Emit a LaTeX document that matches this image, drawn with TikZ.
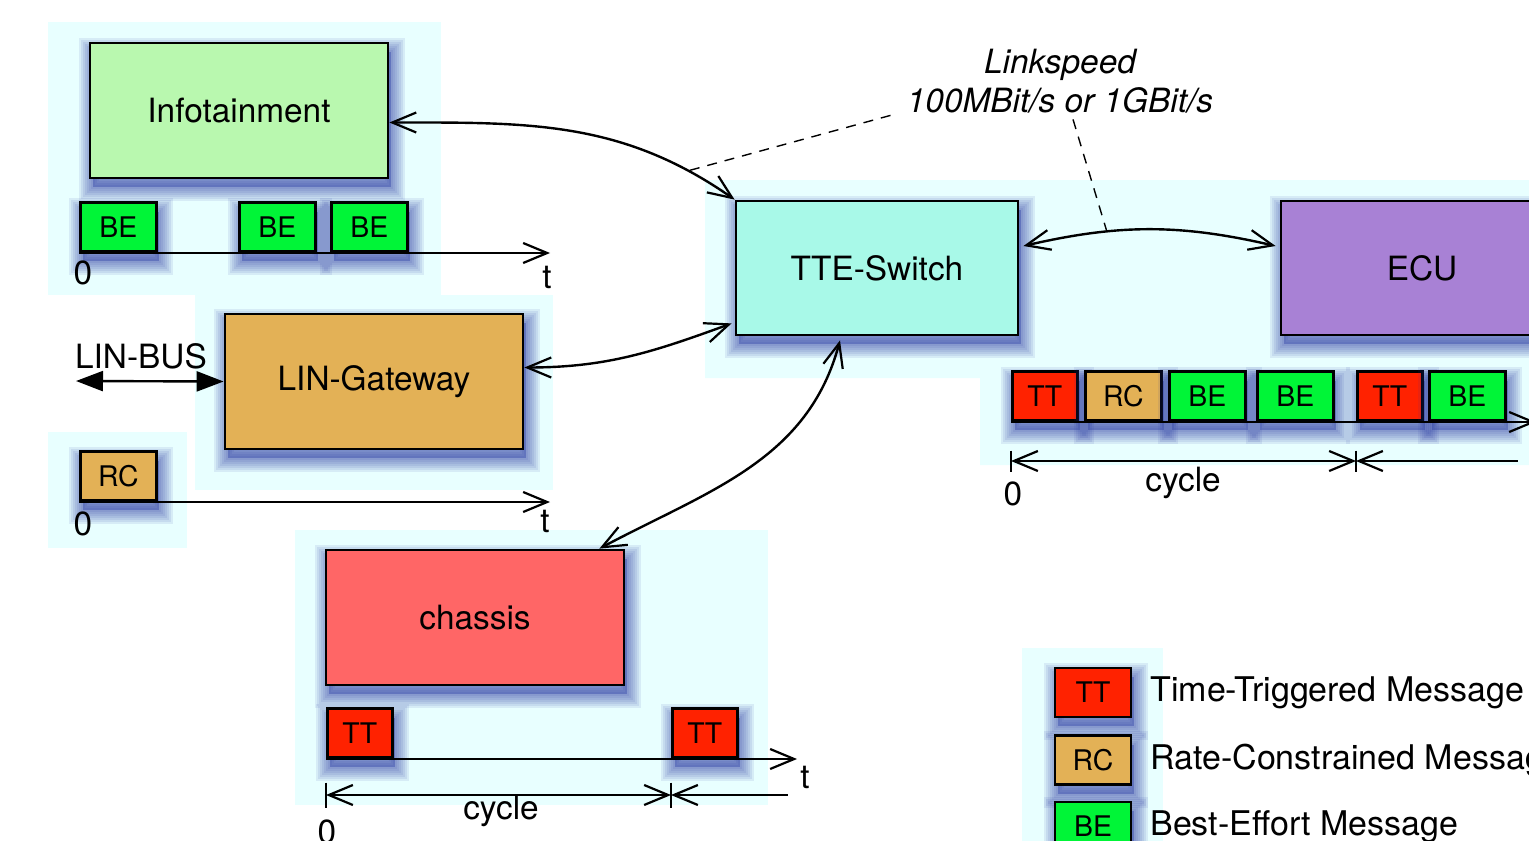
\documentclass[tikz,border=0pt]{standalone}
\usepackage{fontspec}
\setmainfont{TeX Gyre Heros}
\usetikzlibrary{arrows.meta,positioning,shadows}

\definecolor{panelcyan}{RGB}{232,255,255}
\definecolor{infogreen}{RGB}{185,248,175}
\definecolor{lingold}{RGB}{227,177,86}
\definecolor{chassisred}{RGB}{255,102,102}
\definecolor{switchcyan}{RGB}{168,249,232}
\definecolor{ecupurple}{RGB}{168,129,213}
\definecolor{ttred}{RGB}{255,34,0}
\definecolor{begreen}{RGB}{0,245,55}
\definecolor{shadowblue}{RGB}{35,50,160}

\tikzset{
  shadowring/.style={general shadow={shadow xshift=1.5pt, shadow yshift=-4.5pt,
      draw=shadowblue, draw opacity=0.09, line width=#1}},
  softshadow/.style={
      general shadow={shadow xshift=1.5pt, shadow yshift=-4.5pt, fill=shadowblue, fill opacity=0.35},
      shadowring=2pt, shadowring=4pt, shadowring=6pt, shadowring=8pt,
      shadowring=10pt, shadowring=12pt, shadowring=14pt},
  unitbox/.style={draw, line width=1.4pt, minimum width=149pt, minimum height=67.5pt,
      softshadow},
  msgbox/.style={draw, line width=1.3pt, minimum width=38pt, minimum height=24.5pt,
      inner sep=0pt, font=\fontsize{14.2}{16}\selectfont, softshadow},
  ttbox/.style={msgbox, fill=ttred, minimum width=32.5pt},
  rcbox/.style={msgbox, fill=lingold},
  bebox/.style={msgbox, fill=begreen},
  barb/.tip={Straight Barb[length=12pt, width=10pt, line width=1.1pt]},
  timeaxis/.style={line width=1.1pt, -barb},
  linkarrow/.style={line width=1.2pt, barb-barb},
  dimline/.style={line width=1.1pt},
  speednote/.style={dash pattern=on 5pt off 4pt, line width=0.7pt},
}

\begin{document}
\begin{tikzpicture}[x=0.5pt, y=0.5pt, font=\fontsize{16.7}{19.5}\selectfont]
\useasboundingbox (0,0) rectangle (1529,-840);
\clip (0,0) rectangle (1529,-840);

% background panels
\fill[panelcyan] (48,-22) rectangle (441,-295); % infotainment
\fill[panelcyan] (195,-295) rectangle (553,-490); % gateway
\fill[panelcyan] (48,-432) rectangle (187,-548); % rc row
\fill[panelcyan] (295,-530) rectangle (768,-805); % chassis
\fill[panelcyan] (705,-180) -- (1529,-180) -- (1529,-465) -- (980,-465)
   -- (980,-378) -- (705,-378) -- cycle; % switch and ecu
\fill[panelcyan] (1022,-648) rectangle (1163,-845); % legend

% units
\node[unitbox, fill=infogreen] (info) at (239,-110.5) {Infotainment};
\node[unitbox, fill=lingold] (gateway) at (374,-381.5) {LIN-Gateway};
\node[unitbox, fill=chassisred] (chassis) at (475,-617.5) {chassis};
\node[unitbox, fill=switchcyan, minimum width=141pt, minimum height=67pt] (switch) at (877,-268) {TTE-Switch};
\node[unitbox, fill=ecupurple, minimum width=141pt, minimum height=67pt] (ecu) at (1422,-268) {ECU};

% infotainment messages
\node[bebox, anchor=south west] (ibe1) at (79,-253) {BE};
\node[bebox, anchor=south west] (ibe2) at (238,-253) {BE};
\node[bebox, anchor=south west] (ibe3) at (330,-253) {BE};
\coordinate (iend) at (550,-253);
\draw[timeaxis] (ibe1.south west) -- (iend);
\node (izero) at (83,-273) {0};
\node (itime) at (547,-277) {t};

% lin bus
\node (linbus) at (141,-356) {LIN-BUS};
\coordinate (busend) at (76,-381);
\draw[line width=1.2pt, {Triangle[length=13.5pt,width=10pt]}-{Triangle[length=13.5pt,width=10pt]}]
  (busend) -- (gateway.west);

% rc messages
\node[rcbox, anchor=south west] (grc) at (79,-502) {RC};
\coordinate (gend) at (550,-502);
\draw[timeaxis] (grc.south west) -- (gend);
\node (gzero) at (83,-524) {0};
\node (gtime) at (545,-521) {t};

% chassis messages
\node[ttbox, anchor=south west] (ctt1) at (326,-759) {TT};
\node[ttbox, anchor=south west] (ctt2) at (671,-759) {TT};
\coordinate (cend) at (797,-759);
\draw[timeaxis] (ctt1.south west) -- (cend);
\node (ctime) at (805,-777) {t};
\coordinate (cdim0) at (326,-795);
\coordinate (cdim1) at (671,-795);
\coordinate (cdim2) at (788,-795);
\draw[dimline] (cdim0) ++(0,12.5) -- ++(0,-25);
\draw[dimline] (cdim1) ++(0,12.5) -- ++(0,-25);
\draw[dimline, barb-barb] (cdim0) -- (cdim1);
\draw[dimline, barb-] (cdim1) -- (cdim2);
\node (ccycle) at (501,-811) {cycle};
\node (czero) at (327,-832) {0};

% ecu messages
\node[ttbox, anchor=south west] (ett1) at (1011,-422) {TT};
\node[rcbox, anchor=south west] (erc) at (1084,-422) {RC};
\node[bebox, anchor=south west] (ebe1) at (1168,-422) {BE};
\node[bebox, anchor=south west] (ebe2) at (1256,-422) {BE};
\node[ttbox, anchor=south west] (ett2) at (1356,-422) {TT};
\node[bebox, anchor=south west] (ebe3) at (1428,-422) {BE};
\coordinate (eend) at (1536,-422);
\draw[timeaxis] (ett1.south west) -- (eend);
\coordinate (edim0) at (1011,-461);
\coordinate (edim1) at (1356,-461);
\coordinate (edim2) at (1518,-461);
\draw[dimline] (edim0) ++(0,10.5) -- ++(0,-21);
\draw[dimline] (edim1) ++(0,10.5) -- ++(0,-21);
\draw[dimline, barb-barb] (edim0) -- (edim1);
\draw[dimline, barb-] (edim1) -- (edim2);
\node (ecycle) at (1183,-483) {cycle};
\node (ezero) at (1013,-494) {0};

% links
\draw[linkarrow] ([yshift=-6pt]info.east) to[out=0, in=145]
  coordinate[pos=0.86] (speedA) (switch.north west);
\draw[linkarrow] ([yshift=7pt]gateway.east) to[out=0, in=200]
  ([xshift=-1.5pt, yshift=6.5pt]switch.south west);
\draw[linkarrow] ([xshift=-13pt]chassis.north east) to[out=28, in=255]
  ([xshift=-18.5pt, yshift=-2pt]switch.south);
\draw[linkarrow] ([xshift=2pt, yshift=11pt]switch.east) to[out=13, in=167]
  coordinate[pos=0.32] (speedB) ([xshift=-2pt, yshift=11pt]ecu.west);

% link speed note
\node[font=\fontsize{16.7}{19.5}\selectfont\itshape, align=center, inner sep=2pt]
  (speed) at (1060,-81) {Linkspeed\\100MBit/s or 1GBit/s};
\draw[speednote] ([xshift=-6pt, yshift=1pt]speed.south west) -- (speedA);
\draw[speednote] ([xshift=6.5pt, yshift=-1pt]speed.south) -- (speedB);

% legend
\node[ttbox, minimum width=38pt] (ltt) at (1093,-692.5) {TT};
\node[rcbox] (lrc) at (1093,-760) {RC};
\node[bebox] (lbe) at (1093,-826.5) {BE};
\node[right=5.5pt of ltt, font=\fontsize{17}{20}\selectfont] (lttlabel) {Time-Triggered Message};
\node[right=5.5pt of lrc, font=\fontsize{17}{20}\selectfont] (lrclabel) {Rate-Constrained Message};
\node[right=5.5pt of lbe, font=\fontsize{17}{20}\selectfont] (lbelabel) {Best-Effort Message};
\end{tikzpicture}
\end{document}
